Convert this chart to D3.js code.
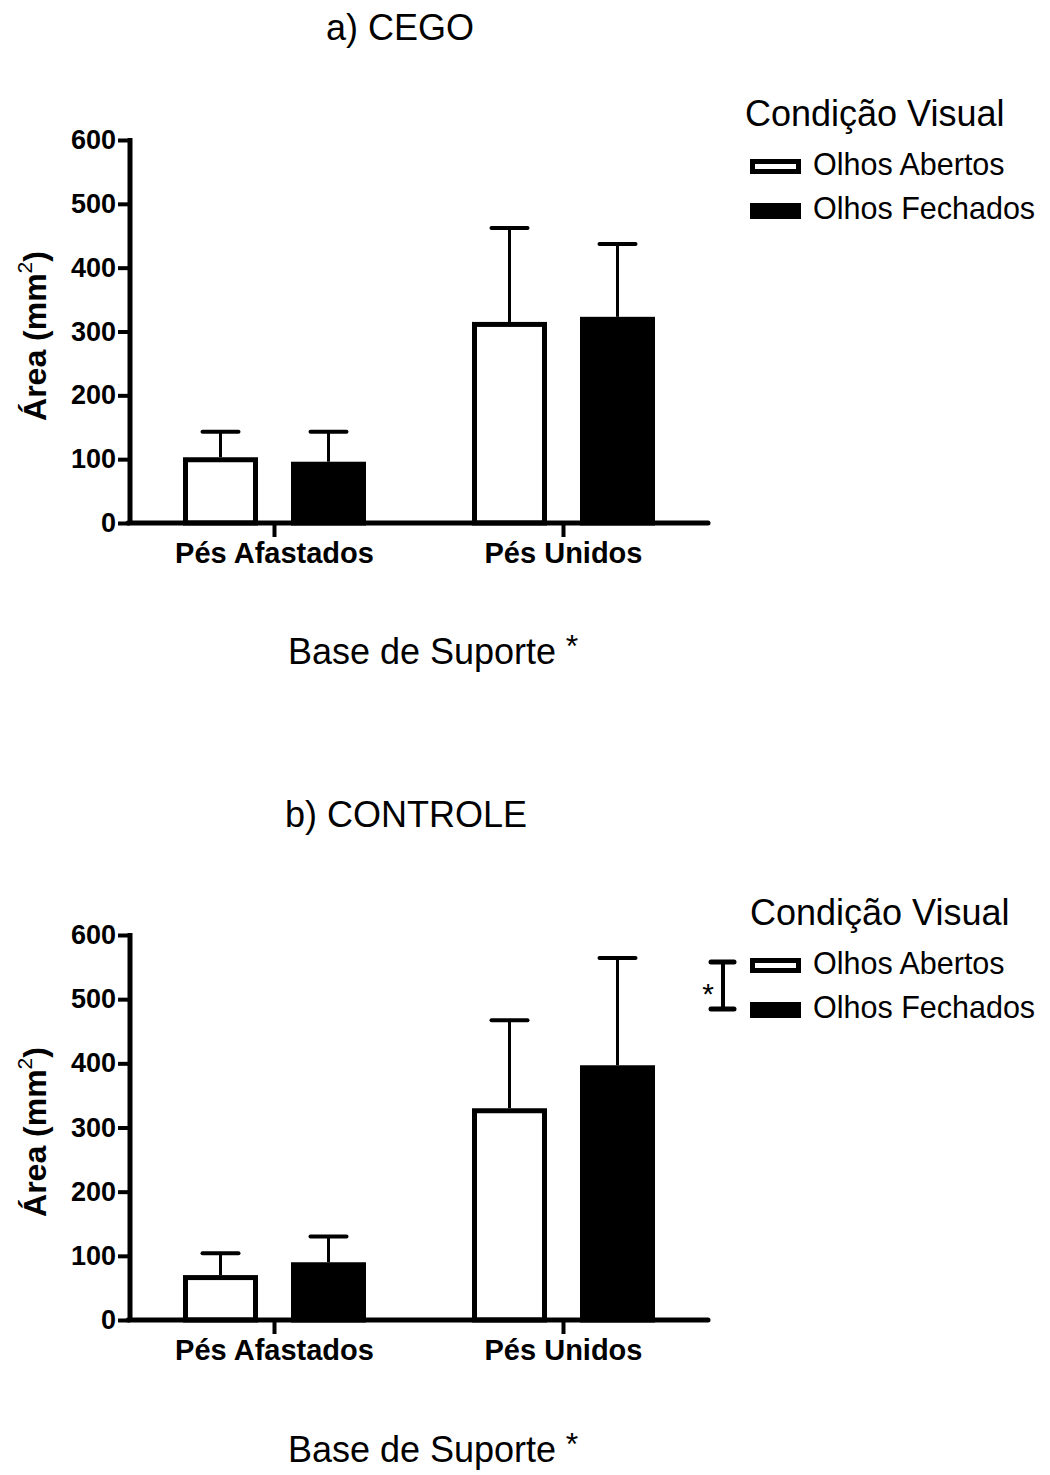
<!DOCTYPE html>
<html><head><meta charset="utf-8">
<script src="https://cdn.jsdelivr.net/npm/d3@7/dist/d3.min.js"></script>
<style>body{margin:0;background:#fff}svg{display:block}text{font-family:"Liberation Sans",Arial,sans-serif;fill:#000}</style>
</head><body>
<script>
const categories = ["Pés Afastados", "Pés Unidos"];
const seriesNames = ["Olhos Abertos", "Olhos Fechados"];
const yTicks = [0, 100, 200, 300, 400, 500, 600];
const cegoAbertos = [103, 315];
const cegoAbertosErr = [40, 147];
const cegoFechados = [96, 323];
const cegoFechadosErr = [47, 114];
const controleAbertos = [70, 330];
const controleAbertosErr = [34, 137];
const controleFechados = [90, 397];
const controleFechadosErr = [40, 167];

const W = 1050, H = 1475;
const svg = d3.select("body").append("svg").attr("width", W).attr("height", H);

function panel(cfg) {
  const g = svg.append("g");
  const y = d3.scaleLinear().domain([0, 600]).range([cfg.y0, cfg.y1]);
  const x = d3.scaleBand().domain(categories).range([130, 708]);
  const xi = d3.scaleBand().domain(seriesNames).range([53, 236]).paddingInner(33 / 108);

  g.append("text").attr("x", cfg.titleX).attr("y", cfg.titleY).attr("text-anchor", "middle")
    .attr("font-size", 36).text(cfg.title);

  const data = [];
  categories.forEach((c, i) => {
    data.push({c, s: seriesNames[0], v: cfg.a[i], e: cfg.ae[i], fill: false});
    data.push({c, s: seriesNames[1], v: cfg.f[i], e: cfg.fe[i], fill: true});
  });
  data.forEach(d => {
    const cx = x(d.c) + xi(d.s) + xi.bandwidth() / 2;
    g.append("line").attr("x1", cx).attr("x2", cx).attr("y1", y(d.v)).attr("y2", y(d.v + d.e))
      .attr("stroke", "#000").attr("stroke-width", 3);
    g.append("line").attr("x1", cx - 18).attr("x2", cx + 18).attr("y1", y(d.v + d.e)).attr("y2", y(d.v + d.e))
      .attr("stroke", "#000").attr("stroke-width", 4).attr("stroke-linecap", "round");
  });
  data.forEach(d => {
    const bx = x(d.c) + xi(d.s);
    const bw = xi.bandwidth();
    g.append("rect").attr("x", bx + 2.5).attr("y", y(d.v) + 2.5)
      .attr("width", bw - 5).attr("height", y(0) - y(d.v) - 2.5)
      .attr("fill", d.fill ? "#000" : "#fff").attr("stroke", "#000").attr("stroke-width", 5);
  });

  const ya = g.append("g").attr("transform", "translate(130,0)")
    .call(d3.axisLeft(y).tickValues(yTicks).tickSize(12).tickSizeOuter(0).tickPadding(2));
  ya.select(".domain").remove();
  ya.selectAll(".tick line").attr("stroke", "#000").attr("stroke-width", 4);
  ya.selectAll(".tick text").attr("font-size", 27).attr("font-weight", "bold").attr("fill", "#000");
  g.append("line").attr("x1", 130).attr("x2", 130).attr("y1", y(600) - 2).attr("y2", y(0) + 2)
    .attr("stroke", "#000").attr("stroke-width", 5);

  g.append("line").attr("x1", 128).attr("x2", 708).attr("y1", y(0)).attr("y2", y(0))
    .attr("stroke", "#000").attr("stroke-width", 5).attr("stroke-linecap", "round");
  const xa = g.append("g").attr("transform", `translate(0,${y(0)})`)
    .call(d3.axisBottom(x).tickSize(14).tickSizeOuter(0).tickPadding(10));
  xa.select(".domain").remove();
  xa.selectAll(".tick line").attr("stroke", "#000").attr("stroke-width", 4);
  xa.selectAll(".tick text").attr("font-size", 29).attr("font-weight", "bold").attr("fill", "#000")
    .attr("dy", 0).attr("y", cfg.catY - y(0));

  const yl = g.append("text").attr("transform", `translate(46,${cfg.ylabY}) rotate(-90)`)
    .attr("text-anchor", "middle").attr("font-size", 32).attr("font-weight", "bold");
  yl.append("tspan").text("Área (mm");
  yl.append("tspan").attr("font-size", 21).attr("font-weight", "normal").attr("dy", -14).text("2");
  yl.append("tspan").attr("dy", 14).text(")");

  g.append("text").attr("x", 422).attr("y", cfg.xlabY).attr("text-anchor", "middle")
    .attr("font-size", 36).text("Base de Suporte");
  g.append("text").attr("x", 572).attr("y", cfg.xlabY - 7).attr("text-anchor", "middle")
    .attr("font-size", 32).text("*");

  g.append("text").attr("x", cfg.legTitleX).attr("y", cfg.legY).attr("font-size", 36).text("Condição Visual");
  g.append("rect").attr("x", 752.5).attr("y", cfg.legY + 35.5).attr("width", 46).attr("height", 10)
    .attr("fill", "#fff").attr("stroke", "#000").attr("stroke-width", 5);
  g.append("text").attr("x", 813).attr("y", cfg.legY + 49).attr("font-size", 30.5).text(seriesNames[0]);
  g.append("rect").attr("x", 750).attr("y", cfg.legY + 77).attr("width", 51).attr("height", 16)
    .attr("fill", "#000");
  g.append("text").attr("x", 813).attr("y", cfg.legY + 93).attr("font-size", 30.5).text(seriesNames[1]);

  if (cfg.bracket) {
    const bx = 723, t = cfg.legY + 37, b = cfg.legY + 84;
    g.append("line").attr("x1", bx).attr("x2", bx).attr("y1", t).attr("y2", b).attr("stroke", "#000").attr("stroke-width", 4);
    [t, b].forEach(yy => g.append("line").attr("x1", bx - 12).attr("x2", bx + 11).attr("y1", yy).attr("y2", yy)
      .attr("stroke", "#000").attr("stroke-width", 5).attr("stroke-linecap", "round"));
    g.append("text").attr("x", 708).attr("y", cfg.legY + 79).attr("text-anchor", "middle").attr("font-size", 30).text("*");
  }
}

panel({title: "a) CEGO", titleX: 400, titleY: 40, y0: 523, y1: 140, a: cegoAbertos, ae: cegoAbertosErr,
  f: cegoFechados, fe: cegoFechadosErr, catY: 563, ylabY: 336, xlabY: 664, legY: 126, legTitleX: 745, bracket: false});
panel({title: "b) CONTROLE", titleX: 406, titleY: 827, y0: 1320, y1: 935, a: controleAbertos, ae: controleAbertosErr,
  f: controleFechados, fe: controleFechadosErr, catY: 1360, ylabY: 1132, xlabY: 1462, legY: 925, legTitleX: 750, bracket: true});
</script>
</body></html>
